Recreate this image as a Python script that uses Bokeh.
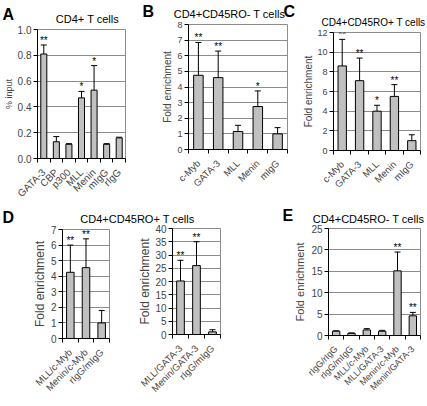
import math
from bokeh.plotting import figure
from bokeh.models import (Range1d, FixedTicker, CustomJSTickFormatter, PrintfTickFormatter,
                          Whisker, TeeHead, ColumnDataSource, Label, LabelSet)
from bokeh.layouts import column, row
from bokeh.embed import file_html
from bokeh.resources import INLINE
from bokeh.core.properties import value

FONT = "Liberation Sans"

# ---------------- data ----------------
A_title = "CD4+ T cells"
A_ylabel = "% input"
A_cats = ["GATA-3", "CBP", "p300", "MLL", "Menin", "mIgG", "rIgG"]
A_vals = [0.81, 0.13, 0.11, 0.47, 0.53, 0.11, 0.16]
A_errs = [0.07, 0.04, 0.005, 0.05, 0.19, 0.005, 0.005]
A_sig = ["**", "", "", "*", "*", "", ""]
A_yticks = [0.0, 0.2, 0.4, 0.6, 0.8, 1.0]

B_title = "CD4+CD45RO- T cells"
B_cats = ["c-Myb", "GATA-3", "MLL", "Menin", "mIgG"]
B_vals = [4.75, 4.6, 1.15, 2.75, 1.0]
B_errs = [2.1, 1.7, 0.4, 1.0, 0.4]
B_sig = ["**", "**", "", "*", ""]
B_yticks = [0, 1, 2, 3, 4, 5, 6, 7, 8]

C_title = "CD4+CD45RO+ T cells"
C_cats = ["c-Myb", "GATA-3", "MLL", "Menin", "mIgG"]
C_vals = [8.6, 7.1, 4.0, 5.5, 1.0]
C_errs = [2.7, 2.3, 0.6, 1.2, 0.6]
C_sig = ["**", "**", "*", "**", ""]
C_yticks = [0, 2, 4, 6, 8, 10, 12]

D_title = "CD4+CD45RO+ T cells"
D1_cats = ["MLL/c-Myb", "Menin/c-Myb", "rIgG/mIgG"]
D1_vals = [4.25, 4.55, 1.0]
D1_errs = [1.75, 1.85, 0.8]
D1_sig = ["**", "**", ""]
D1_yticks = [0, 1, 2, 3, 4, 5, 6, 7]

D2_cats = ["MLL/GATA-3", "Menin/GATA-3", "rIgG/mIgG"]
D2_vals = [20.2, 26.0, 1.0]
D2_errs = [7.8, 9.0, 0.8]
D2_sig = ["**", "**", ""]
D2_yticks = [0, 5, 10, 15, 20, 25, 30, 35, 40]

E_title = "CD4+CD45RO- T cells"
E_cats = ["rIgG/rIgG", "rIgG/mIgG", "MLL/c-Myb", "MLL/GATA-3", "Menin/c-Myb", "Menin/GATA-3"]
E_vals = [1.0, 0.5, 1.3, 1.0, 15.1, 4.6]
E_errs = [0.1, 0.1, 0.3, 0.2, 4.4, 0.8]
E_sig = ["", "", "", "", "**", "**"]
E_yticks = [0, 5, 10, 15, 20, 25]

YLABEL = "Fold enrichment"
GRID = "#8c8c8c"
BAR = "#c0c0c0"
LIFT = 3.5   # labels render a little below their nominal baseline


def header(width, height):
    h = figure(width=width, height=height, output_backend="svg", toolbar_location=None,
               x_range=Range1d(0, 1), y_range=Range1d(0, 1),
               x_axis_location=None, y_axis_location=None, min_border=0)
    h.frame_align = False
    h.grid.visible = False
    h.outline_line_color = None
    h.border_fill_color = "white"
    h.background_fill_color = "white"
    return h


def txt(h, left, bottom, px, py, text, size, bold=False, align="center"):
    # px: page x of anchor, py: page y of baseline; left/bottom: page position of header
    h.add_layout(Label(x=px - left, y=bottom - py + LIFT, x_units="screen", y_units="screen",
                       text=text, text_font=FONT, text_font_size=f"{size}px",
                       text_font_style="bold" if bold else "normal",
                       text_align=align, text_baseline="alphabetic", text_color="black"))


def panel(cats, vals, errs, sig, yticks, fmt, ylabel, ylabel_fs, ystand,
          width, height, left, right, top, bottom, tick_fs, cat_fs):
    n = len(cats)
    xs = [i + 0.5 for i in range(n)]
    his = [v + e for v, e in zip(vals, errs)]
    src = ColumnDataSource(dict(x=xs, top=vals, hi=his, sig=sig))
    p = figure(width=width, height=height, output_backend="svg", toolbar_location=None,
               x_range=Range1d(0, n), y_range=Range1d(0, yticks[-1]),
               min_border_left=left, min_border_right=right,
               min_border_top=top, min_border_bottom=bottom)
    p.frame_align = False
    p.background_fill_color = "white"
    p.border_fill_color = "white"
    p.outline_line_color = GRID
    p.xgrid.visible = False
    p.ygrid.ticker = FixedTicker(ticks=yticks)
    p.ygrid.grid_line_color = GRID
    p.ygrid.grid_line_width = 1

    p.vbar(x="x", top="top", bottom=0, width=0.48, source=src,
           fill_color=BAR, line_color="black", line_width=1)
    p.add_layout(Whisker(base="x", upper="hi", lower="top", source=src,
                         line_color="black", line_width=1,
                         upper_head=TeeHead(size=6, line_color="black", line_width=1),
                         lower_head=None))
    p.add_layout(LabelSet(x="x", y="hi", text="sig", source=src, text_align="center",
                          text_baseline="alphabetic", y_offset=1,
                          text_font=value(FONT), text_font_size="10px", text_color="black"))

    ya = p.yaxis[0]
    ya.ticker = FixedTicker(ticks=yticks)
    ya.formatter = PrintfTickFormatter(format=fmt)
    ya.major_tick_in = 0
    ya.major_tick_out = 4
    ya.minor_tick_out = 0
    ya.minor_tick_in = 0
    ya.major_label_standoff = 2
    ya.major_label_text_font = FONT
    ya.major_label_text_font_size = f"{tick_fs}px"
    ya.axis_line_color = "black"
    ya.major_tick_line_color = "black"
    ya.axis_label = ylabel
    ya.axis_label_text_font = FONT
    ya.axis_label_text_font_size = f"{ylabel_fs}px"
    ya.axis_label_text_font_style = "normal"
    ya.axis_label_standoff = ystand

    xa = p.xaxis[0]
    xa.ticker = FixedTicker(ticks=xs, minor_ticks=list(range(n + 1)))
    xa.formatter = CustomJSTickFormatter(args=dict(labels=cats), code="""
        const i = Math.floor(tick);
        return (i >= 0 && i < labels.length) ? labels[i] : '';
    """)
    xa.major_tick_in = 0
    xa.major_tick_out = 0
    xa.minor_tick_in = 0
    xa.minor_tick_out = 4
    xa.minor_tick_line_color = "black"
    xa.major_label_standoff = 8
    xa.major_label_orientation = math.pi / 4
    xa.major_label_text_font = FONT
    xa.major_label_text_font_size = f"{cat_fs}px"
    xa.axis_line_color = "black"
    return p


# ---------- top row (page y 0..205) ----------
hA = header(135, 25)
txt(hA, 0, 25, 2, 17, "A", 16, bold=True, align="left")
txt(hA, 0, 25, 87, 21.5, A_title, 11)
pA = panel(A_cats, A_vals, A_errs, A_sig, A_yticks, "%.1f", A_ylabel, 9, 1,
           135, 180, 32, 10, 4, 46, 10, 10)

hB = header(160, 20)
txt(hB, 135, 20, 142, 14, "B", 16, bold=True, align="left")
txt(hB, 135, 20, 229, 16.5, B_title, 11)
txt(hB, 135, 20, 283, 14, "C", 16, bold=True, align="left")
pB = panel(B_cats, B_vals, B_errs, B_sig, B_yticks, "%d", YLABEL, 10, 1,
           160, 185, 53, 8, 4, 56, 9, 9.5)

hC = header(131, 28)
txt(hC, 295, 28, 373, 25, C_title, 10)
pC = panel(C_cats, C_vals, C_errs, C_sig, C_yticks, "%d", YLABEL, 10, 0,
           131, 177, 38, 6, 4, 55, 9, 9.5)

# ---------- header of bottom row (page y 205..224) ----------
hD = header(426, 19)
txt(hD, 0, 224, 2, 220, "D", 16, bold=True, align="left")
txt(hD, 0, 224, 137, 222, D_title, 11)
txt(hD, 0, 224, 282, 218, "E", 16, bold=True, align="left")
txt(hD, 0, 224, 368, 221.5, E_title, 11)

# ---------- bottom row (page y 224..400) ----------
pD1 = panel(D1_cats, D1_vals, D1_errs, D1_sig, D1_yticks, "%d", YLABEL, 12, 1,
            130, 176, 62, 21, 5, 62, 10, 9.5)
pD2 = panel(D2_cats, D2_vals, D2_errs, D2_sig, D2_yticks, "%d", YLABEL, 12, 0,
            160, 176, 42, 70, 4, 63, 10, 9.5)
pE = panel(E_cats, E_vals, E_errs, E_sig, E_yticks, "%d", YLABEL, 11, 2,
           136, 176, 38, 6, 4, 65, 10, 9)

layout = column(
    row(column(hA, pA), column(hB, pB), column(hC, pC)),
    hD,
    row(pD1, pD2, pE),
)

open("out.html", "w").write(file_html(layout, INLINE))
